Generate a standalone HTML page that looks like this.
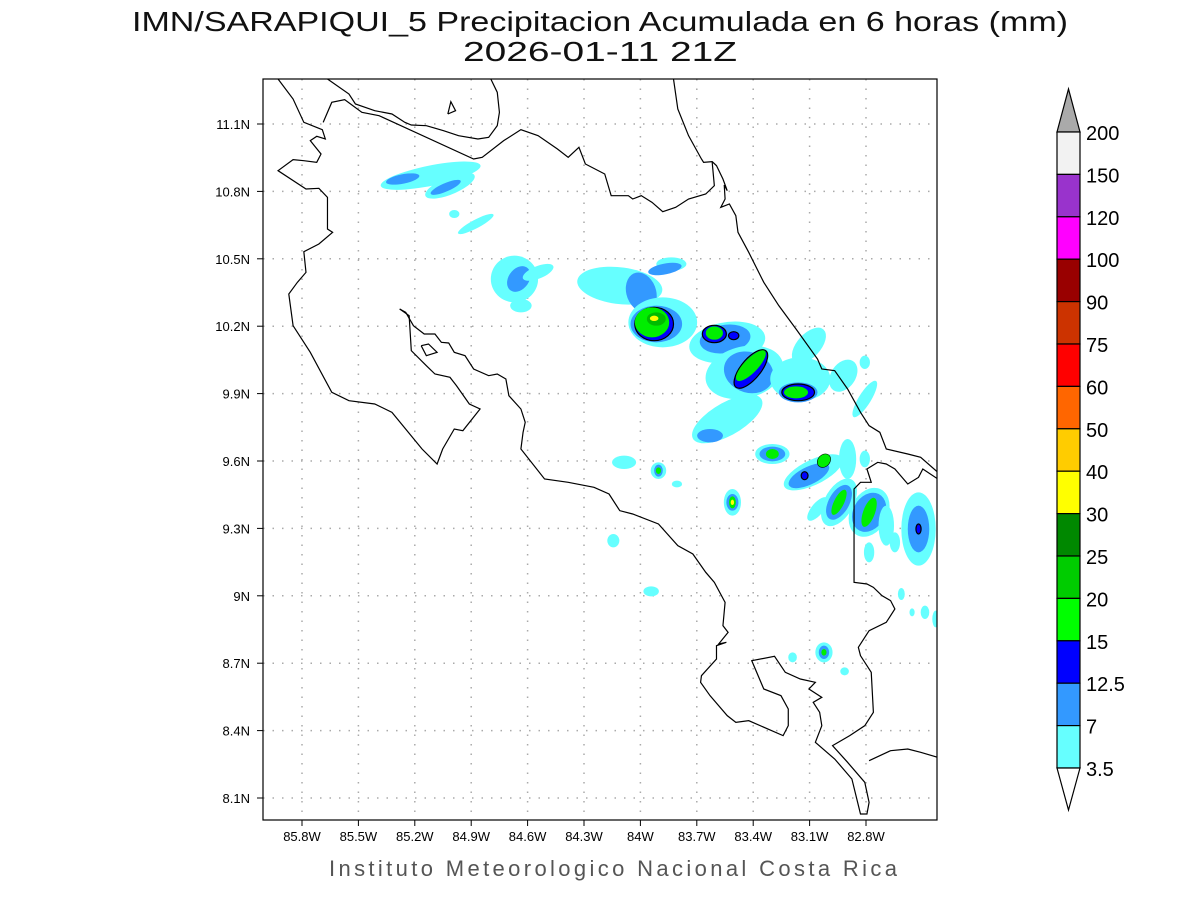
<!DOCTYPE html>
<html><head><meta charset="utf-8">
<style>
html,body{margin:0;padding:0;background:#fff;}
body{width:1200px;height:900px;overflow:hidden;font-family:"Liberation Sans",sans-serif;}
svg text{font-family:"Liberation Sans",sans-serif;}
</style></head>
<body>
<svg id="chart" width="1200" height="900" viewBox="0 0 1200 900" xmlns="http://www.w3.org/2000/svg">
<text x="600" y="31" font-size="28" text-anchor="middle" fill="#111" textLength="936" lengthAdjust="spacingAndGlyphs">IMN/SARAPIQUI_5 Precipitacion Acumulada en 6 horas (mm)</text>
<text x="600" y="61" font-size="28" text-anchor="middle" fill="#111" textLength="274" lengthAdjust="spacingAndGlyphs">2026-01-11 21Z</text>
<clipPath id="clip"><rect x="263" y="79" width="674" height="741"/></clipPath>
<g id="grid"></g>
<g clip-path="url(#clip)">
<g id="map" transform="translate(263,79) scale(0.42985,0.33333)">
<g id="precip"></g>
<g id="coast" fill="none" stroke="#000" stroke-width="1.2"></g>
</g>
</g>
<rect x="263" y="79" width="674" height="741" fill="none" stroke="#000" stroke-width="1.2"/>
<g id="xticks"></g>
<g id="yticks"></g>
<g id="cbar"></g>
<text x="613" y="876" font-size="22" text-anchor="middle" fill="#555" textLength="568" lengthAdjust="spacing">Instituto Meteorologico Nacional Costa Rica</text>
</svg>
<script>
const lonLabels=["85.8W","85.5W","85.2W","84.9W","84.6W","84.3W","84W","83.7W","83.4W","83.1W","82.8W"];
const lonValues=[-85.8,-85.5,-85.2,-84.9,-84.6,-84.3,-84.0,-83.7,-83.4,-83.1,-82.8];
const latLabels=["11.1N","10.8N","10.5N","10.2N","9.9N","9.6N","9.3N","9N","8.7N","8.4N","8.1N"];
const latValues=[11.1,10.8,10.5,10.2,9.9,9.6,9.3,9.0,8.7,8.4,8.1];
const levelLabels=["200","150","120","100","90","75","60","50","40","30","25","20","15","12.5","7","3.5"];
const levelColors=["#f2f2f2","#9933cc","#ff00ff","#990000","#cc3300","#ff0000","#ff6600","#ffcc00","#ffff00","#008800","#00cc00","#00ff00","#0000ff","#3399ff","#66ffff"];
const cellX=[390,325,435,425,445,495,585,595,600,640,830,950,880,935,930,915,910,905,915,910,1080,1075,1050,1050,1095,1120,1130,1135,1135,1250,1245,1245,1240,1270,1400,1350,1400,1080,1040,
 840,920,920,920,963,1092,1092,1092,1092,1185,1185,1185,1280,1270,1305,1305,1260,1340,1340,1340,1290,1360,1400,1410,1410,1410,1450,1470,1525,1525,1525,1410,815,903,1305,1305,1305,1232,1353,1485,1510,1540,1565];
const cellY=[290,300,320,325,405,435,600,600,680,580,620,555,640,570,730,735,735,730,720,718,790,780,765,762,770,880,880,870,860,900,940,940,940,800,960,890,850,1020,1070,
 1150,1175,1175,1175,1215,1270,1270,1270,1270,1125,1125,1125,1180,1190,1145,1145,1190,1270,1270,1270,1290,1140,1140,1300,1300,1300,1340,1390,1350,1350,1350,1420,1385,1537,1720,1720,1720,1735,1777,1545,1600,1600,1620];
const cellRx=[120,40,65,40,12,50,55,25,25,40,100,35,35,40,80,60,45,40,22,10,90,60,28,20,12,95,55,25,18,70,45,38,28,30,15,30,12,100,30,
 28,18,10,6,12,20,14,8,4,40,30,15,80,55,14,14,8,35,25,12,15,20,12,45,38,14,18,12,40,25,6,12,14,18,20,12,6,10,10,8,6,10,8];
const cellRy=[30,14,25,12,12,12,70,40,20,18,55,20,60,16,75,55,50,45,20,8,60,42,26,20,12,75,65,65,55,65,30,25,18,60,60,50,20,45,20,
 20,25,18,10,10,40,25,18,8,30,22,15,35,25,20,20,12,75,55,40,40,60,25,75,60,45,60,30,110,70,15,30,20,15,30,20,10,15,12,18,12,20,25];
const cellAng=[-15,-15,-30,-30,0,-35,0,20,0,-30,10,0,-10,-15,0,0,0,0,0,0,-15,-15,0,0,0,-30,-30,30,35,0,0,0,0,30,25,20,0,-40,0,
 0,0,0,0,0,0,0,0,0,0,0,0,-35,-35,20,20,0,20,20,20,30,0,0,15,15,15,0,0,0,0,0,0,0,0,0,0,0,0,0,0,0,0,0];
const cellLvl=[0,1,0,1,0,0,0,1,0,0,0,0,1,1,0,1,2,3,4,8,0,1,2,3,2,0,1,2,3,0,1,2,3,0,0,0,0,0,1,
 0,0,1,3,0,0,1,3,8,0,1,3,0,1,2,3,2,0,1,3,0,0,0,0,1,3,0,0,0,1,2,0,0,0,0,1,3,0,0,0,0,0,0];
const precipColors=["#66ffff","#3399ff","#0000ff","#00ee00","#00bb00","#008800","#00aa00","#00cc00","#ffff00"];

const NS="http://www.w3.org/2000/svg";
const lonX=v=>302+(v+85.8)/0.3*56.4;
const latY=v=>124+(11.1-v)/0.3*67.4;
function mk(tag,parent){const e=document.createElementNS(NS,tag);parent.appendChild(e);return e;}

const grid=document.getElementById('grid'),xt=document.getElementById('xticks'),yt=document.getElementById('yticks');
lonValues.forEach((v,i)=>{
 const x=lonX(v);
 const l=mk('line',grid);
 
 
 l.setAttribute('x1',x);l.setAttribute('x2',x);l.setAttribute('y1',79);l.setAttribute('y2',820);
 l.setAttribute('stroke','#aaa');l.setAttribute('stroke-dasharray','1.5,8');l.setAttribute('stroke-width','1.5');
 const t=mk('line',xt);
 
 
 t.setAttribute('x1',x);t.setAttribute('x2',x);t.setAttribute('y1',820);t.setAttribute('y2',826);t.setAttribute('stroke','#000');
 const s=mk('text',xt);
 
 
 s.setAttribute('x',x);s.setAttribute('y',841);s.setAttribute('font-size','13');s.setAttribute('text-anchor','middle');
 s.textContent=lonLabels[i];
});
latValues.forEach((v,i)=>{
 const y=latY(v);
 const l=mk('line',grid);
 
 
 l.setAttribute('x1',263);l.setAttribute('x2',937);l.setAttribute('y1',y);l.setAttribute('y2',y);
 l.setAttribute('stroke','#aaa');l.setAttribute('stroke-dasharray','1.5,8');l.setAttribute('stroke-width','1.5');
 const t=mk('line',yt);
 
 
 t.setAttribute('x1',257);t.setAttribute('x2',263);t.setAttribute('y1',y);t.setAttribute('y2',y);t.setAttribute('stroke','#000');
 const s=mk('text',yt);
 
 
 s.setAttribute('x',250);s.setAttribute('y',y+5);s.setAttribute('font-size','13');s.setAttribute('text-anchor','end');
 s.textContent=latLabels[i];
});

const pg=document.getElementById('precip');
cellX.forEach((cx,i)=>{
 const e=mk('ellipse',pg);
 
 
 e.setAttribute('cx',cx);e.setAttribute('cy',cellY[i]);e.setAttribute('rx',cellRx[i]);e.setAttribute('ry',cellRy[i]);
 e.setAttribute('transform','rotate('+cellAng[i]+' '+cx+' '+cellY[i]+')');
 e.setAttribute('fill',precipColors[cellLvl[i]]);
 if(cellLvl[i]==2){e.setAttribute('stroke','#000');e.setAttribute('stroke-width','1.2');e.setAttribute('vector-effect','non-scaling-stroke');}
});

const coasts=[
"35,0 70,60 95,130 138,152 145,180 125,172 110,185 135,225 125,250 95,245 70,242 35,275 100,330 130,328 150,355 150,450 162,460 130,495 95,518 100,580 80,610 60,645 70,740 110,820 160,940 200,965 260,975 300,1000 370,1110 405,1155 418,1110 445,1050 465,1055 505,990 480,975 450,920 435,895 400,885 380,860 345,815 340,710 318,690",
"318,690 332,700 350,740 375,765 400,765 415,790 432,792 445,820 470,830 490,870 525,890 545,885 565,900 572,950 600,990 610,1030 605,1060 600,1110 655,1200 710,1210 770,1225 805,1245 830,1295 860,1305 920,1335 965,1400 1000,1425 1030,1480 1050,1510 1075,1570 1070,1640 1082,1660 1060,1695 1078,1690 1055,1700 1055,1740 1020,1790 1018,1810 1040,1850 1080,1910 1100,1930 1130,1925 1210,1970 1222,1940 1222,1890 1205,1850 1165,1830 1137,1745 1190,1732 1215,1780 1250,1800 1285,1810 1270,1830 1300,1855 1280,1870 1295,1900 1300,1940 1285,1990 1330,2040 1370,2100 1390,2205 1405,2205 1410,2170 1400,2110 1360,2050 1325,2000 1365,1970 1400,1940 1420,1900 1415,1780 1390,1730 1385,1705 1410,1655 1450,1630 1470,1590 1460,1565 1440,1550 1420,1525 1405,1515 1375,1510 1375,1230 1390,1210 1415,1210 1405,1170 1430,1150 1450,1155 1470,1170 1500,1215 1525,1195 1535,1170 1570,1200",
"1410,2045 1460,2015 1500,2010 1530,2020 1570,2035",
"955,0 965,90 990,170 1020,240 1025,250 1045,248 1055,260 1070,300 1080,335 1073,318 1075,360 1065,385 1085,375 1100,410 1105,460 1130,520 1165,610 1200,680 1240,750 1290,840 1300,870 1330,875 1360,930 1390,1000 1410,1040 1435,1060 1450,1110 1500,1125 1530,1135 1570,1180",
"150,0 200,45 215,75 260,95 300,105 330,130 345,138 380,140 420,155 455,170 500,180 525,175 545,140 550,100 545,40 530,0",
"140,130 160,70 190,62 230,100 270,110 490,240 510,235 560,185 600,152 640,170 685,210 710,235 735,205 750,255 795,285 810,350 850,350 860,360 880,350 905,370 930,398 960,385 990,360 1030,345 1050,320 1045,250",
"430,105 437,68 448,95 430,105",
"368,800 385,795 405,820 380,830 368,800"];
const cg=document.getElementById('coast');
coasts.forEach(p=>{
 const e=mk('polyline',cg);
 
 
 e.setAttribute('points',p);
 e.setAttribute('vector-effect','non-scaling-stroke');
});

const cb=document.getElementById('cbar');
const bx=1057,bw=23,cbTop=132,bh=(768-132)/levelColors.length;
const tri1=mk('polygon',cb);


tri1.setAttribute('points',`${bx},${cbTop} ${bx+bw},${cbTop} ${bx+bw/2},89`);
tri1.setAttribute('fill','#aaa');tri1.setAttribute('stroke','#000');tri1.setAttribute('stroke-width','1.2');
levelColors.forEach((c,i)=>{
 const r=mk('rect',cb);
 
 
 r.setAttribute('x',bx);r.setAttribute('y',cbTop+i*bh);r.setAttribute('width',bw);r.setAttribute('height',bh);
 r.setAttribute('fill',c);r.setAttribute('stroke','#000');r.setAttribute('stroke-width','1.2');
});
const tri2=mk('polygon',cb);


tri2.setAttribute('points',`${bx},768 ${bx+bw},768 ${bx+bw/2},810`);
tri2.setAttribute('fill','#fff');tri2.setAttribute('stroke','#000');tri2.setAttribute('stroke-width','1.2');
levelLabels.forEach((s,i)=>{
 const t=mk('text',cb);
 
 
 t.setAttribute('x',1086);t.setAttribute('y',cbTop+i*bh+8);t.setAttribute('font-size','20');
 t.textContent=s;
});
</script>
</body></html>
